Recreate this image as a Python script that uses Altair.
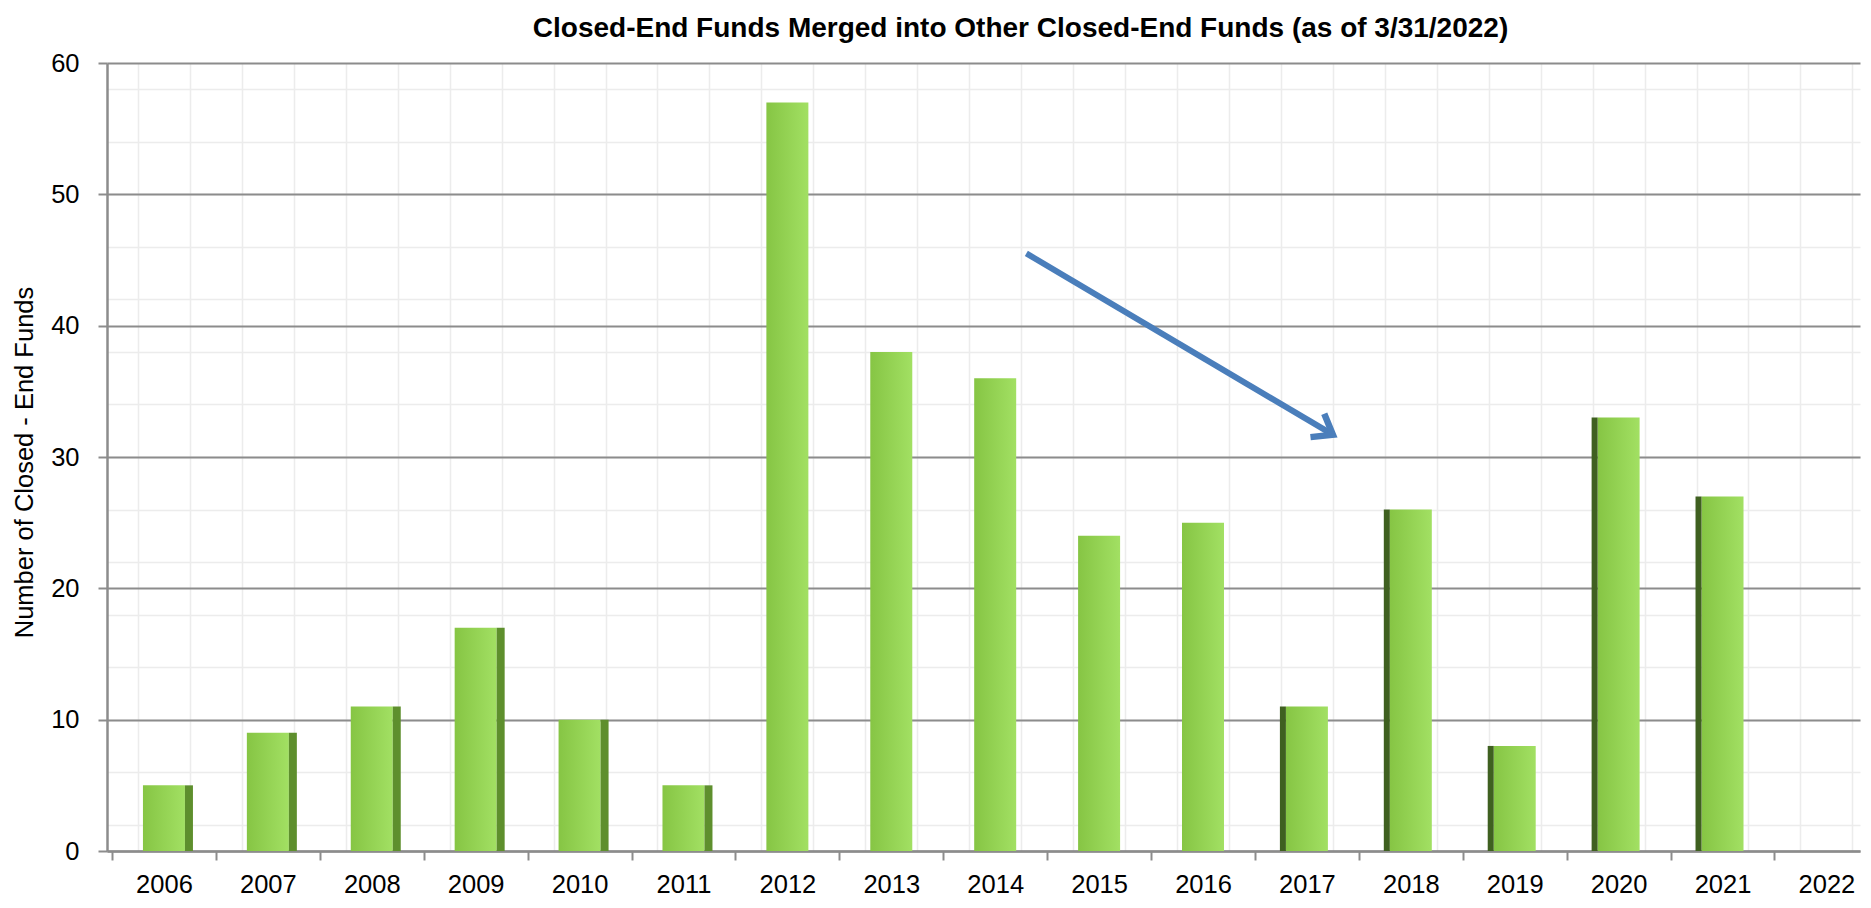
import altair as alt
import pandas as pd

# ---- data ----
years = [2006, 2007, 2008, 2009, 2010, 2011, 2012, 2013, 2014,
         2015, 2016, 2017, 2018, 2019, 2020, 2021, 2022]
counts = [5, 9, 11, 17, 10, 5, 57, 38, 36, 24, 25, 11, 26, 8, 33, 27, 0]
y_ticks = [0, 10, 20, 30, 40, 50, 60]
# category boundaries (Excel-style ticks between categories)
boundaries = [y - 0.5 for y in years]
# faint "graph paper" background lines
paper_x = [y - 0.25 for y in years] + [y + 0.25 for y in years]
paper_y = [2 + 4 * i for i in range(15)]
# annotation arrow (data units)
arrow_x = [2014.3, 2017.25]
arrow_y = [45.5, 31.7]

TITLE = "Closed-End Funds Merged into Other Closed-End Funds (as of 3/31/2022)"
Y_TITLE = "Number of Closed - End Funds"
FONT = "Liberation Sans"
AXIS_GRAY = "#8c8c8c"
PAPER = "#ECECEC"

df = pd.DataFrame({"year": years, "count": counts})
bdf = pd.DataFrame({"b": boundaries})
adf = pd.DataFrame({"x": arrow_x, "y": arrow_y})
head_df = adf.tail(1)

x_scale = alt.Scale(domain=[2005.5, 2022.275], nice=False, zero=False)
y_scale = alt.Scale(domain=[0, 60], nice=False, zero=True)

grad = alt.LinearGradient(
    gradient="linear", x1=0, x2=1, y1=0, y2=0,
    stops=[alt.GradientStop(color="#86C544", offset=0),
           alt.GradientStop(color="#A2E063", offset=1)],
)

paper = alt.Chart(df).mark_point(opacity=0).encode(
    x=alt.X("year:Q", scale=x_scale,
            axis=alt.Axis(values=paper_x, grid=True, gridColor=PAPER, gridWidth=1.5,
                          labels=False, ticks=False, domain=False, title=None,
                          orient="bottom")),
    y=alt.Y("count:Q", scale=y_scale,
            axis=alt.Axis(values=paper_y, grid=True, gridColor=PAPER, gridWidth=1.5,
                          labels=False, ticks=False, domain=False, title=None,
                          orient="left")),
)

bars = alt.Chart(df).mark_bar(width=42, color=grad).encode(
    x=alt.X("year:Q", scale=x_scale,
            axis=alt.Axis(values=years, format="d", tickSize=0, labelFontSize=25.5,
                          labelFont=FONT, labelColor="#000000", labelPadding=21,
                          domain=True, domainColor=AXIS_GRAY, domainWidth=2.5,
                          grid=False, title=None, orient="bottom", labelFlush=False)),
    y=alt.Y("count:Q", scale=y_scale,
            axis=alt.Axis(values=y_ticks, tickSize=9, tickColor=AXIS_GRAY, tickWidth=2,
                          labelFontSize=25.5, labelFont=FONT, labelColor="#000000",
                          labelPadding=19, domain=True, domainColor=AXIS_GRAY,
                          domainWidth=2.5, grid=True, gridColor=AXIS_GRAY, gridWidth=2,
                          title=Y_TITLE, titleFont=FONT, titleFontSize=25.5,
                          titleFontWeight="normal", titleColor="#000000",
                          titleX=-83, titleY=399, titleAlign="center",
                          titleBaseline="middle", titleAngle=270, orient="left")),
)

side_right = alt.Chart(df).transform_filter("datum.year <= 2011").mark_bar(
    width=8, xOffset=25, color="#5E8F2D"
).encode(
    x=alt.X("year:Q", scale=x_scale, axis=None),
    y=alt.Y("count:Q", scale=y_scale, axis=None),
)

side_left = alt.Chart(df).transform_filter("datum.year >= 2017").mark_bar(
    width=6, xOffset=-24, color="#3F6020"
).encode(
    x=alt.X("year:Q", scale=x_scale, axis=None),
    y=alt.Y("count:Q", scale=y_scale, axis=None),
)

ticks = alt.Chart(bdf).mark_rule(opacity=0).encode(
    x=alt.X("b:Q", scale=x_scale,
            axis=alt.Axis(values=boundaries, labels=False, tickSize=9,
                          tickColor=AXIS_GRAY, tickWidth=2, domain=False,
                          grid=False, title=None, orient="bottom")),
)

arrow_line = alt.Chart(adf).mark_line(color="#4A7EBB", strokeWidth=6, strokeCap="butt").encode(
    x=alt.X("x:Q", scale=x_scale, axis=None),
    y=alt.Y("y:Q", scale=y_scale, axis=None),
)

arrow_head = alt.Chart(head_df).mark_point(
    shape="M -1 -0.75 L 0 0 L -1 0.75", filled=False, size=1300, strokeWidth=6.5,
    color="#4A7EBB", opacity=1, angle=30.6, strokeJoin="miter",
).encode(
    x=alt.X("x:Q", scale=x_scale, axis=None),
    y=alt.Y("y:Q", scale=y_scale, axis=None),
)

chart = alt.layer(
    paper, bars, side_right, side_left, ticks, arrow_line, arrow_head
).resolve_axis(x="independent", y="independent").properties(
    width=1753,
    height=788,
    autosize=alt.AutoSizeParams(type="none"),
    padding={"left": 99, "top": 55, "right": 3, "bottom": 49},
    background="white",
    title=alt.TitleParams(TITLE, font=FONT, fontSize=28, fontWeight="bold",
                          color="#000000", anchor="middle", offset=8, dx=37),
).configure_view(stroke=None)

chart.save("out.html", embed_options={"renderer": "svg", "actions": False})
